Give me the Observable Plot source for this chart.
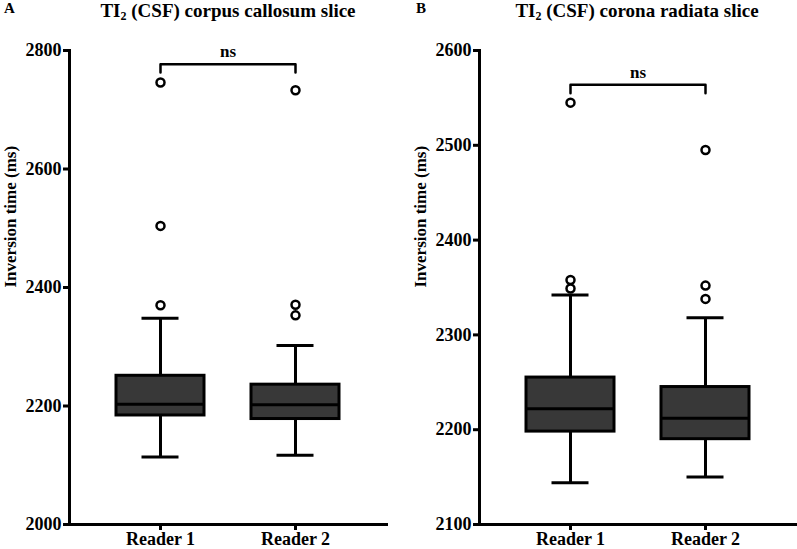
<!DOCTYPE html>
<html>
<head>
<meta charset="utf-8">
<script src="https://cdn.jsdelivr.net/npm/d3@7"></script>
<script src="https://cdn.jsdelivr.net/npm/@observablehq/plot@0.6"></script>
<style>
  body { margin: 0; background: #fff; }
  #fig { position: relative; width: 797px; height: 549px; background: #fff; font-family: "Liberation Serif", "Times New Roman", serif; font-weight: bold; color: #000; }
  .panel { position: absolute; top: 0; }
  .letter { position: absolute; top: 0px; font-size: 15px; font-weight: bold; }
  .title { position: absolute; top: 0px; font-size: 19px; font-weight: bold; white-space: nowrap; transform: translateX(-50%); }
  .title sub { font-size: 12px; vertical-align: -3px; line-height: 0; }
</style>
</head>
<body>
<div id="fig"></div>
<script>
// ---- Data ----
const readers = ["Reader 1", "Reader 2"];
const yLabel = "Inversion time (ms)";
const sigLabel = "ns";

// Panel A: TI2 (CSF) corpus callosum slice
const titleA = "corpus callosum slice";
const ticksA = [2000, 2200, 2400, 2600, 2800];
const domainA = [2000, 2800];
const q1A = [2184, 2178];
const medA = [2203, 2202];
const q3A = [2251, 2236];
const loA = [2114, 2117];
const hiA = [2348, 2302];
const outA1 = [2746, 2504, 2370];
const outA2 = [2733, 2371, 2353];
const bracketA = [2763, 2777];   // bracket foot, bracket top
const sigYA = 2798;

// Panel B: TI2 (CSF) corona radiata slice
const titleB = "corona radiata slice";
const ticksB = [2100, 2200, 2300, 2400, 2500, 2600];
const domainB = [2100, 2600];
const q1B = [2198, 2190];
const medB = [2222, 2212];
const q3B = [2255, 2245];
const loB = [2144, 2150];
const hiB = [2342, 2318];
const outB1 = [2545, 2358, 2349];
const outB2 = [2495, 2352, 2338];
const bracketB = [2555, 2564];
const sigYB = 2577;

function panel({width, marginLeft, marginRight, domain, ticks, q1, med, q3, lo, hi, out1, out2, bracket, sigY}) {
  const boxes = readers.map((r, i) => ({reader: r, q1: q1[i], med: med[i], q3: q3[i], lo: lo[i], hi: hi[i]}));
  const outliers = [
    ...out1.map(v => ({reader: readers[0], v})),
    ...out2.map(v => ({reader: readers[1], v}))
  ];
  const br = [
    {reader: readers[0], v: bracket[0]},
    {reader: readers[0], v: bracket[1]},
    {reader: readers[1], v: bracket[1]},
    {reader: readers[1], v: bracket[0]}
  ];
  const capInset = 25.5;
  return Plot.plot({
    width, height: 549,
    marginLeft, marginRight, marginTop: 50, marginBottom: 25,
    style: {fontFamily: '"Liberation Serif", "Times New Roman", serif', fontWeight: "bold", fontSize: "18px", color: "#000", background: "transparent", overflow: "visible"},
    x: {type: "band", domain: readers, paddingInner: 0.348, paddingOuter: 0.348, label: null},
    y: {domain, label: null},
    marks: [
      Plot.axisY({ticks, tickFormat: d => String(d), tickSize: 6, tickPadding: 2, strokeWidth: 3, label: null, fontSize: 18}),
      Plot.axisX({tickSize: 6, tickPadding: 2, strokeWidth: 3, label: null, fontSize: 18}),
      Plot.frame({anchor: "left", strokeWidth: 3, stroke: "#000"}),
      Plot.frame({anchor: "bottom", strokeWidth: 3, stroke: "#000"}),
      Plot.text([yLabel], {frameAnchor: "left", rotate: -90, dx: -59, fontSize: 17, fontWeight: "bold", fill: "#000"}),
      // whiskers
      Plot.ruleX(boxes, {x: "reader", y1: "q3", y2: "hi", stroke: "#000", strokeWidth: 3}),
      Plot.ruleX(boxes, {x: "reader", y1: "lo", y2: "q1", stroke: "#000", strokeWidth: 3}),
      Plot.tickY(boxes, {x: "reader", y: "hi", stroke: "#000", strokeWidth: 3, insetLeft: capInset, insetRight: capInset}),
      Plot.tickY(boxes, {x: "reader", y: "lo", stroke: "#000", strokeWidth: 3, insetLeft: capInset, insetRight: capInset}),
      // boxes
      Plot.barY(boxes, {x: "reader", y1: "q1", y2: "q3", fill: "#383838", stroke: "#000", strokeWidth: 3}),
      Plot.tickY(boxes, {x: "reader", y: "med", stroke: "#000", strokeWidth: 3}),
      // outliers
      Plot.dot(outliers, {x: "reader", y: "v", r: 4, fill: "#fff", stroke: "#000", strokeWidth: 2.5}),
      // significance bracket
      Plot.line(br, {x: "reader", y: "v", stroke: "#000", strokeWidth: 2.5}),
      Plot.text([sigLabel], {y: () => sigY, fontSize: 17, fontWeight: "bold", fill: "#000"})
    ]
  });
}

const fig = document.getElementById("fig");

const svgA = panel({width: 400, marginLeft: 69, marginRight: 14, domain: domainA, ticks: ticksA,
  q1: q1A, med: medA, q3: q3A, lo: loA, hi: hiA, out1: outA1, out2: outA2, bracket: bracketA, sigY: sigYA});
svgA.classList.add("panel");
svgA.style.left = "0px";
fig.appendChild(svgA);

const svgB = panel({width: 397, marginLeft: 79, marginRight: 1, domain: domainB, ticks: ticksB,
  q1: q1B, med: medB, q3: q3B, lo: loB, hi: hiB, out1: outB1, out2: outB2, bracket: bracketB, sigY: sigYB});
svgB.classList.add("panel");
svgB.style.left = "400px";
fig.appendChild(svgB);

function addText(cls, left, html) {
  const d = document.createElement("div");
  d.className = cls;
  d.style.left = left + "px";
  d.innerHTML = html;
  fig.appendChild(d);
}
addText("letter", 4, "A");
addText("letter", 416, "B");
addText("title", 228, "TI<sub>2</sub> (CSF) " + titleA);
addText("title", 637, "TI<sub>2</sub> (CSF) " + titleB);
</script>
</body>
</html>
